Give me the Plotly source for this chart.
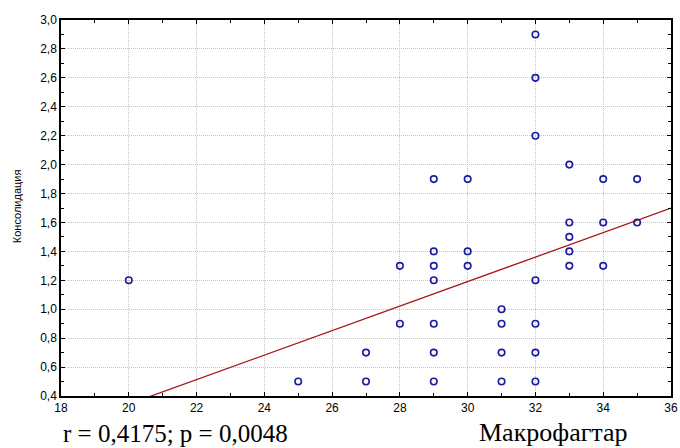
import plotly.graph_objects as go

# Data
x_vals = [20, 25, 27, 27, 28, 28,
          29, 29, 29, 29, 29, 29, 29,
          30, 30, 30,
          31, 31, 31, 31,
          32, 32, 32, 32, 32, 32, 32,
          33, 33, 33, 33, 33,
          34, 34, 34,
          35, 35]
y_vals = [1.2, 0.5, 0.7, 0.5, 1.3, 0.9,
          1.9, 1.4, 1.3, 1.2, 0.9, 0.7, 0.5,
          1.9, 1.4, 1.3,
          1.0, 0.9, 0.7, 0.5,
          2.9, 2.6, 2.2, 1.2, 0.9, 0.7, 0.5,
          2.0, 1.6, 1.5, 1.4, 1.3,
          1.9, 1.6, 1.3,
          1.9, 1.6]

fit_slope = 0.0847
fit_intercept = -1.350
fit_x = [18, 36]
fit_y = [fit_intercept + fit_slope * v for v in fit_x]

x_ticks = [18, 20, 22, 24, 26, 28, 30, 32, 34, 36]
y_ticks = [0.4, 0.6, 0.8, 1.0, 1.2, 1.4, 1.6, 1.8, 2.0, 2.2, 2.4, 2.6, 2.8, 3.0]
y_title = "Консолидация"
x_title = "Макрофагтар"
stat_text = "r = 0,4175; p = 0,0048"

fig = go.Figure()
fig.add_trace(go.Scatter(
    x=fit_x, y=fit_y, mode="lines",
    line=dict(color="#a81818", width=1.3),
    showlegend=False, hoverinfo="skip"))
fig.add_trace(go.Scatter(
    x=x_vals, y=y_vals, mode="markers",
    marker=dict(symbol="circle-open", size=6.5, color="#1c1ca0",
                line=dict(width=1.6, color="#1c1ca0")),
    showlegend=False, cliponaxis=False))

axis_common = dict(
    showline=True, linecolor="black", linewidth=1.5, mirror="ticks",
    ticks="inside", ticklen=4, tickcolor="black", tickwidth=1,
    showgrid=True, gridcolor="#c4c4c4", gridwidth=1, griddash="1px,1px",
    zeroline=False, automargin=False,
    tickfont=dict(family="Liberation Sans, Arial", size=12, color="black"),
)

fig.update_layout(
    width=680, height=448,
    margin=dict(l=61, r=9, t=20, b=52),
    paper_bgcolor="white", plot_bgcolor="white",
    separators=", ",
    showlegend=False,
    xaxis=dict(range=[18, 36], tickvals=x_ticks,
               minor=dict(dtick=1, ticks="inside", ticklen=3, tickcolor="black", showgrid=False),
               **axis_common),
    yaxis=dict(range=[0.4, 3.0], tickvals=y_ticks, tickformat=".1f",
               minor=dict(dtick=0.1, tick0=0.4, ticks="inside", ticklen=3, tickcolor="black", showgrid=False),
               **axis_common),
    annotations=[
        dict(text=y_title, xref="paper", yref="paper", x=-0.072, y=0.505,
             xanchor="center", yanchor="middle", textangle=-90, showarrow=False,
             font=dict(family="Liberation Sans, Arial", size=11, color="black")),
        dict(text=stat_text, xref="paper", yref="paper", x=0.0, y=-0.14,
             xanchor="left", yanchor="bottom", showarrow=False,
             font=dict(family="Liberation Serif, serif", size=25, color="black")),
        dict(text=x_title, xref="paper", yref="paper", x=0.808, y=-0.14,
             xanchor="center", yanchor="bottom", showarrow=False,
             font=dict(family="Liberation Serif, serif", size=26, color="black")),
    ],
)

fig.write_html("out.html")
